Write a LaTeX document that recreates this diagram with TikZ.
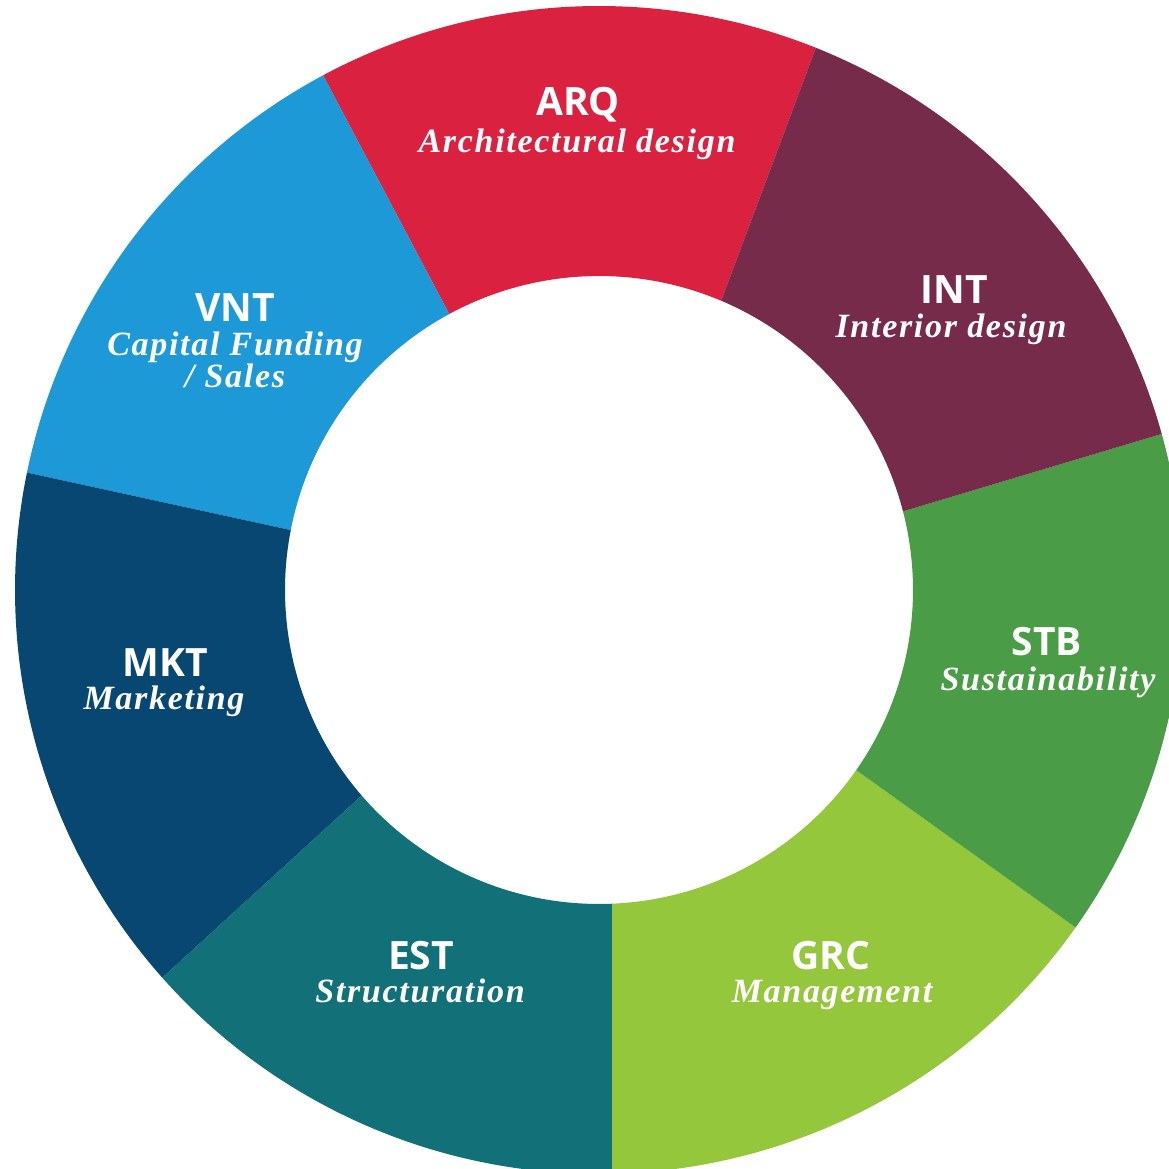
\documentclass[tikz,border=0pt]{standalone}
\usepackage{fontspec}
\usetikzlibrary{calc, positioning}
\newfontfamily\tagfont{Open Sans}
\newfontfamily\descfont{Liberation Serif}[LetterSpace=5]
\definecolor{arqred}{HTML}{DA2140}
\definecolor{intwine}{HTML}{772B4A}
\definecolor{stbgreen}{HTML}{4A9D46}
\definecolor{grclime}{HTML}{94C73B}
\definecolor{estteal}{HTML}{117078}
\definecolor{mktnavy}{HTML}{074771}
\definecolor{vntblue}{HTML}{1C99D6}
\tikzset{
  tag/.style={text=white, anchor=base, inner sep=0pt, font=\tagfont\bfseries\fontsize{39}{39}\selectfont},
  desc/.style={text=white, anchor=base, inner sep=0pt, font=\descfont\bfseries\itshape\fontsize{34}{34}\selectfont},
}
% 圆环的一段: 颜色, 外弧起止角, 内弧起止角
\newcommand{\ringpart}[5]{%
  \fill[#1] ($(c)+(#2:\outerr)$) arc[start angle=#2, end angle=#3, radius=\outerr]
    -- ($(c)+(#5:\innerr)$) arc[start angle=#5, end angle=#4, radius=\innerr] -- cycle;}

\begin{document}
\begin{tikzpicture}[x=1pt, y=1pt]
        % 定义外圆半径和内圆半径
        \def\outerr{584}
        \def\innerr{314}
        % 画布大小, 右边和下边被裁掉
        \useasboundingbox (0,0) rectangle (1169,1168);
        \clip (0,0) rectangle (1169,1168);
        % 圆环中心
        \coordinate (c) at (599,578);
        % 七个扇段
        \ringpart{arqred}{68.2}{118.2}{67.1}{118.5}
        \ringpart{vntblue}{118.2}{168.4}{118.5}{169.0}
        \ringpart{mktnavy}{168.4}{221.6}{169.0}{220.9}
        \ringpart{estteal}{221.6}{271.3}{220.9}{272.4}
        \ringpart{grclime}{271.3}{324.7}{272.4}{325.0}
        \ringpart{stbgreen}{324.7}{375.5}{325.0}{374.5}
        \ringpart{intwine}{15.5}{68.2}{14.5}{67.1}
        % 标注每一段
        \node[tag] (arq) at (578,1052) {ARQ};
        \node[desc] (arq-desc) at (577,1015) {Architectural design};
        \node[tag] (int) at (954,864) {INT};
        \node[desc] (int-desc) at (951,830) {Interior design};
        \node[tag] (stb) at (1047,512) {STB};
        \node[desc] (stb-desc) at (1048,477) {Sustainability};
        \node[tag] (grc) at (831,199) {GRC};
        \node[desc] (grc-desc) at (832,166) {Management};
        \node[tag] (est) at (421,199) {EST};
        \node[desc] (est-desc) at (420,166) {Structuration};
        \node[tag] (mkt) at (165,491) {MKT};
        \node[desc] (mkt-desc) at (164,458) {Marketing};
        \node[tag] (vnt) at (235,846) {VNT};
        \node[desc] (vnt-desc) at (235,812) {Capital Funding};
        \node[desc] (vnt-desc2) at (235,780) {/ Sales};
    \end{tikzpicture}
\end{document}
